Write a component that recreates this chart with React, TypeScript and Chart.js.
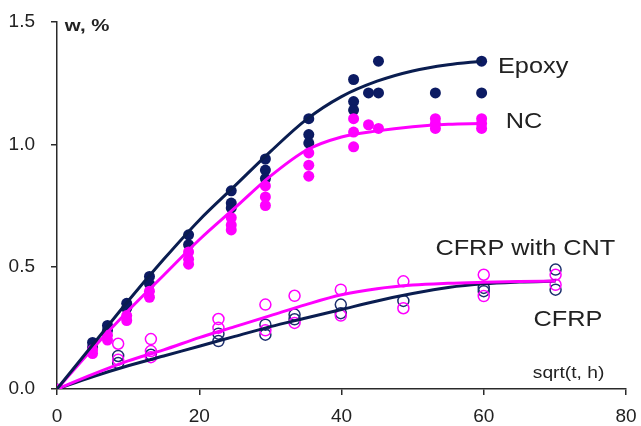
import React, { useEffect, useRef } from "react";
import { Chart, registerables } from "chart.js";

Chart.register(...registerables);

// ---- data ----
const epoxyPtX = [0, 5, 5, 7.1, 7.1, 9.8, 9.8, 13, 13, 18.5, 18.5, 24.5, 24.5, 24.5, 29.3, 29.3, 29.3, 35.4, 35.4, 35.4, 41.7, 41.7, 41.7, 43.8, 45.2, 45.2, 53.2, 59.7, 59.7];
const epoxyPtY = [0, 0.19, 0.17, 0.26, 0.24, 0.35, 0.33, 0.46, 0.43, 0.63, 0.59, 0.81, 0.76, 0.74, 0.94, 0.895, 0.86, 1.105, 1.04, 1.005, 1.265, 1.175, 1.14, 1.21, 1.34, 1.21, 1.21, 1.34, 1.21];

const ncPtX = [0, 5, 5, 7.1, 7.1, 9.8, 9.8, 13, 13, 18.5, 18.5, 18.5, 24.5, 24.5, 24.5, 29.3, 29.3, 29.3, 35.4, 35.4, 35.4, 41.7, 41.7, 41.7, 43.8, 45.2, 53.2, 53.2, 53.2, 59.7, 59.7, 59.7];
const ncPtY = [0, 0.16, 0.145, 0.22, 0.2, 0.3, 0.28, 0.4, 0.375, 0.56, 0.53, 0.51, 0.7, 0.67, 0.65, 0.83, 0.785, 0.75, 0.965, 0.915, 0.87, 1.105, 1.05, 0.99, 1.08, 1.065, 1.105, 1.085, 1.065, 1.105, 1.085, 1.065];

const cntPtX = [8.6, 8.6, 13.2, 13.2, 13.2, 22.7, 22.7, 29.3, 29.3, 33.4, 33.4, 39.9, 39.9, 48.7, 48.7, 60, 60, 70.1, 70.1];
const cntPtY = [0.185, 0.12, 0.204, 0.155, 0.13, 0.286, 0.25, 0.345, 0.24, 0.381, 0.27, 0.406, 0.3, 0.44, 0.33, 0.467, 0.38, 0.467, 0.426];

const cfrpPtX = [8.6, 8.6, 13.2, 22.7, 22.7, 29.3, 29.3, 33.4, 33.4, 39.9, 39.9, 48.7, 60, 60, 70.1, 70.1];
const cfrpPtY = [0.135, 0.106, 0.14, 0.226, 0.196, 0.263, 0.222, 0.304, 0.285, 0.345, 0.31, 0.36, 0.413, 0.4, 0.488, 0.406];

const fitX = [0, 5, 10, 15, 20, 25, 30, 35, 40, 45, 50, 55, 59.7];
const epoxyFitY = [0, 0.18, 0.36, 0.53, 0.69, 0.83, 0.97, 1.1, 1.195, 1.258, 1.3, 1.325, 1.34];
const ncFitY = [0, 0.165, 0.32, 0.465, 0.61, 0.74, 0.87, 0.975, 1.03, 1.055, 1.072, 1.082, 1.085];

const compFitX = [0, 5, 10, 15, 20, 25, 30, 35, 40, 45, 50, 55, 60, 65, 70.1];
const cfrpFitY = [0, 0.05, 0.095, 0.135, 0.175, 0.215, 0.255, 0.29, 0.325, 0.36, 0.39, 0.415, 0.43, 0.437, 0.441];
const cntFitY = [0, 0.06, 0.115, 0.16, 0.21, 0.255, 0.3, 0.345, 0.385, 0.41, 0.425, 0.432, 0.436, 0.439, 0.441];

const xTicks = [0, 20, 40, 60, 80];
const yTicks = [0, 0.5, 1.0, 1.5];

const labelTexts = ["Epoxy", "NC", "CFRP with CNT", "CFRP"];
const labelX = [62.0, 63.1, 53.2, 67.0];
const labelY = [1.316, 1.091, 0.572, 0.282];

const axisTitleTexts = ["w, %", "sqrt(t, h)"];
const axisTitleX = [1.1, 66.9];
const axisTitleY = [1.483, 0.065];
const axisTitleBold = [true, false];

const NAVY = "#0c1b63";
const NAVY_LINE = "#0a1d50";
const MAGENTA = "#ff00ff";
const TEXT = "#222222";
const AXIS = "#2a2a2a";
const FONT = "'Liberation Sans', Arial, sans-serif";

const zip = (xs: number[], ys: number[]) => xs.map((x, i) => ({ x, y: ys[i] }));

const textPlugin = {
  id: "textLabels",
  afterDatasetsDraw(chart: any) {
    const { ctx, scales } = chart;
    const xs = scales.x;
    const ys = scales.y;
    ctx.save();
    ctx.fillStyle = TEXT;
    ctx.textBaseline = "middle";
    ctx.textAlign = "left";
    labelTexts.forEach((t, i) => {
      const px = xs.getPixelForValue(labelX[i]);
      const py = ys.getPixelForValue(labelY[i]);
      ctx.save();
      ctx.translate(px, py);
      ctx.scale(1.15, 1);
      ctx.font = `22px ${FONT}`;
      ctx.fillText(t, 0, 0);
      ctx.restore();
    });
    axisTitleTexts.forEach((t, i) => {
      const px = xs.getPixelForValue(axisTitleX[i]);
      const py = ys.getPixelForValue(axisTitleY[i]);
      ctx.save();
      ctx.translate(px, py);
      ctx.scale(1.2, 1);
      ctx.font = `${axisTitleBold[i] ? "bold " : ""}${axisTitleBold[i] ? 17 : 16}px ${FONT}`;
      ctx.fillText(t, 0, 0);
      ctx.restore();
    });
    ctx.restore();
  },
};

export default function App() {
  const ref = useRef<HTMLCanvasElement | null>(null);

  useEffect(() => {
    if (!ref.current) return;
    const lineBase = {
      showLine: true,
      pointRadius: 0,
      borderWidth: 3,
      tension: 0.4,
      cubicInterpolationMode: "monotone" as const,
      fill: false,
    };
    const chart = new Chart(ref.current, {
      type: "scatter",
      data: {
        datasets: [
          { ...lineBase, label: "Epoxy fit", data: zip(fitX, epoxyFitY), borderColor: NAVY_LINE, order: 1 },
          { ...lineBase, label: "NC fit", data: zip(fitX, ncFitY), borderColor: MAGENTA, order: 2 },
          { label: "NC", data: zip(ncPtX, ncPtY), pointRadius: 5.5, backgroundColor: MAGENTA, borderColor: MAGENTA, borderWidth: 0, order: 3 },
          { label: "Epoxy", data: zip(epoxyPtX, epoxyPtY), pointRadius: 5.5, backgroundColor: NAVY, borderColor: NAVY, borderWidth: 0, order: 4 },
          { ...lineBase, label: "CFRP with CNT fit", data: zip(compFitX, cntFitY), borderColor: MAGENTA, order: 5 },
          { ...lineBase, label: "CFRP fit", data: zip(compFitX, cfrpFitY), borderColor: NAVY_LINE, order: 6 },
          { label: "CFRP with CNT", data: zip(cntPtX, cntPtY), pointRadius: 5.5, backgroundColor: "rgba(255,255,255,0)", borderColor: MAGENTA, borderWidth: 1.5, order: 7 },
          { label: "CFRP", data: zip(cfrpPtX, cfrpPtY), pointRadius: 5.5, backgroundColor: "rgba(255,255,255,0)", borderColor: "#1d2f6e", borderWidth: 1.5, order: 8 },
        ],
      },
      options: {
        animation: false,
        responsive: false,
        layout: { padding: { left: 0, right: 15, top: 22, bottom: 0 } },
        plugins: { legend: { display: false }, tooltip: { enabled: false } },
        scales: {
          x: {
            type: "linear",
            min: 0,
            max: 80,
            afterBuildTicks: (s: any) => { s.ticks = xTicks.map((v) => ({ value: v })); },
            afterFit: (s: any) => { s.height = 37; s.paddingLeft = 0; s.paddingRight = 0; },
            grid: { drawOnChartArea: false, drawTicks: true, tickLength: 6, color: AXIS, lineWidth: 1.5 },
            border: { display: true, color: AXIS, width: 1.5 },
            ticks: { color: TEXT, font: { family: FONT, size: 19 }, padding: 10, maxRotation: 0, callback: (v: any) => String(v) },
          },
          y: {
            type: "linear",
            min: 0,
            max: 1.5,
            afterBuildTicks: (s: any) => { s.ticks = yTicks.map((v) => ({ value: v })); },
            afterFit: (s: any) => { s.width = 57; s.paddingTop = 0; s.paddingBottom = 0; },
            grid: { drawOnChartArea: false, drawTicks: true, tickLength: 6, color: AXIS, lineWidth: 1.5 },
            border: { display: true, color: AXIS, width: 1.5 },
            ticks: { color: TEXT, font: { family: FONT, size: 19 }, padding: 16, callback: (v: any) => Number(v).toFixed(1) },
          },
        },
      },
      plugins: [textPlugin],
    });
    return () => chart.destroy();
  }, []);

  return (
    <div style={{ position: "absolute", left: 0, top: 0, width: 641, height: 426, background: "#fff" }}>
      <canvas ref={ref} width={641} height={426} style={{ display: "block" }} />
    </div>
  );
}
